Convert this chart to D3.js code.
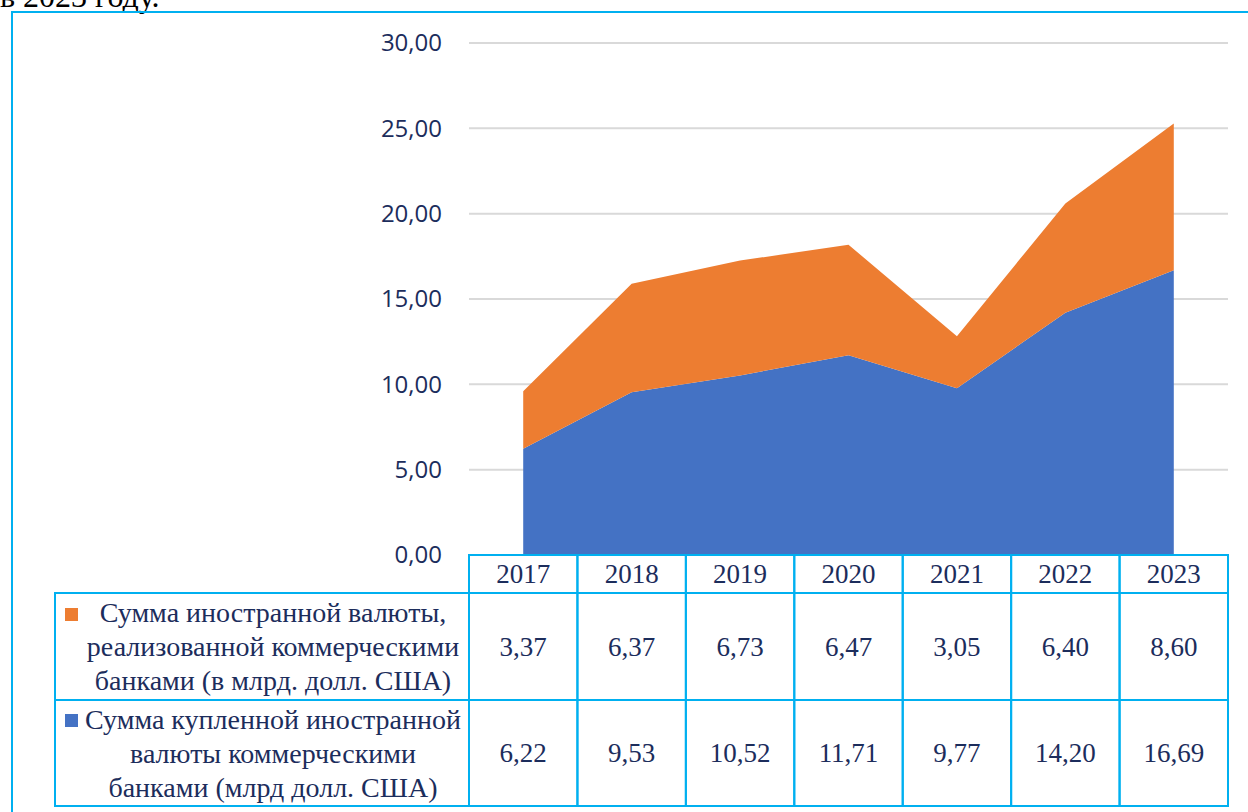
<!DOCTYPE html>
<html>
<head>
<meta charset="utf-8">
<script src="https://cdn.jsdelivr.net/npm/d3@7"></script>
<style>
  html, body { margin: 0; padding: 0; background: #fff; overflow: hidden; }
  svg { display: block; }
</style>
</head>
<body>
<div id="chart"></div>
<script>
// Data
const years = ['2017', '2018', '2019', '2020', '2021', '2022', '2023'];
const bought = [6.22, 9.53, 10.52, 11.71, 9.77, 14.20, 16.69];
const sold = [3.37, 6.37, 6.73, 6.47, 3.05, 6.40, 8.60];
const yTicks = [0, 5, 10, 15, 20, 25, 30];
const seriesNames = {
    sold: ['Сумма иностранной валюты,', 'реализованной коммерческими', 'банками (в млрд. долл. США)'],
    bought: ['Сумма купленной иностранной', 'валюты коммерческими', 'банками (млрд долл. США)']
};

const W = 1248, H = 812;
const blue = '#4472c4', orange = '#ed7d31', border = '#00b0f0', navy = '#1c2d5c';

const svg = d3.select('#chart').append('svg')
    .attr('width', W)
    .attr('height', H);

// Cut-off line of text above the chart frame (partly off the page, as in the source)
svg.append('text')
    .attr('x', 0)
    .attr('y', 7)
    .style('font-family', '"Liberation Serif", serif')
    .style('font-size', '32px')
    .style('fill', '#000')
    .text('в 2023 году.');

// Frame
svg.append('rect')
    .attr('x', 12).attr('y', 12)
    .attr('width', W - 11).attr('height', H - 11)
    .attr('fill', 'none')
    .attr('stroke', border)
    .attr('stroke-width', 2);

// Plot geometry
const plotLeft = 469, plotRight = 1228, plotTop = 43, plotBottom = 555;
const x = d3.scaleBand().domain(years).range([plotLeft, plotRight]);
const y = d3.scaleLinear().domain([0, 30]).range([plotBottom, plotTop]);

// Gridlines
svg.append('g')
    .selectAll('line')
    .data(yTicks.filter(d => d > 0))
    .enter().append('line')
    .attr('x1', plotLeft).attr('x2', plotRight)
    .attr('y1', d => y(d)).attr('y2', d => y(d))
    .attr('stroke', '#d9d9d9')
    .attr('stroke-width', 2);

// Y axis labels
const fmt = v => v.toFixed(2).replace('.', ',');
svg.append('g')
    .selectAll('text')
    .data(yTicks)
    .enter().append('text')
    .attr('x', 442)
    .attr('y', d => y(d))
    .attr('dy', '0.35em')
    .attr('text-anchor', 'end')
    .style('font-family', '"Open Sans", "Liberation Sans", sans-serif')
    .style('font-size', '24px')
    .style('fill', navy)
    .text(fmt);

// Stacked areas
const rows = years.map((yr, i) => ({ year: yr, bought: bought[i], sold: sold[i] }));
const stack = d3.stack().keys(['bought', 'sold'])(rows);
const cx = d => x(d.data.year) + x.bandwidth() / 2;
const area = d3.area()
    .x(cx)
    .y0(d => y(d[0]))
    .y1(d => y(d[1]));

svg.append('g')
    .selectAll('path')
    .data(stack)
    .enter().append('path')
    .attr('d', area)
    .attr('fill', d => d.key === 'bought' ? blue : orange);

// Data table
const tableLeft = 55, hdrTop = plotBottom, hdrBottom = 593, row1Bottom = 700, row2Bottom = 806;
const tbl = svg.append('g');
const serif = '"Liberation Serif", "Times New Roman", serif';

// header cells
years.forEach(yr => {
    tbl.append('rect')
        .attr('x', x(yr)).attr('y', hdrTop)
        .attr('width', x.bandwidth()).attr('height', hdrBottom - hdrTop)
        .attr('fill', 'none').attr('stroke', border).attr('stroke-width', 2);
    tbl.append('text')
        .attr('x', x(yr) + x.bandwidth() / 2)
        .attr('y', (hdrTop + hdrBottom) / 2)
        .attr('dy', '0.35em')
        .attr('text-anchor', 'middle')
        .style('font-family', serif)
        .style('font-size', '27px')
        .style('fill', navy)
        .text(yr);
});

const tableRows = [
    { key: 'sold', color: orange, values: sold, y0: hdrBottom, y1: row1Bottom, lines: seriesNames.sold },
    { key: 'bought', color: blue, values: bought, y0: row1Bottom, y1: row2Bottom, lines: seriesNames.bought }
];

tableRows.forEach(r => {
    const mid = (r.y0 + r.y1) / 2;
    tbl.append('rect')
        .attr('x', tableLeft).attr('y', r.y0)
        .attr('width', plotLeft - tableLeft).attr('height', r.y1 - r.y0)
        .attr('fill', 'none').attr('stroke', border).attr('stroke-width', 2);
    years.forEach((yr, i) => {
        tbl.append('rect')
            .attr('x', x(yr)).attr('y', r.y0)
            .attr('width', x.bandwidth()).attr('height', r.y1 - r.y0)
            .attr('fill', 'none').attr('stroke', border).attr('stroke-width', 2);
        tbl.append('text')
            .attr('x', x(yr) + x.bandwidth() / 2)
            .attr('y', mid)
            .attr('dy', '0.35em')
            .attr('text-anchor', 'middle')
            .style('font-family', serif)
            .style('font-size', '27px')
            .style('fill', navy)
            .text(fmt(r.values[i]));
    });
    // legend marker
    tbl.append('rect')
        .attr('x', 65).attr('y', r.key === 'sold' ? 608 : 714)
        .attr('width', 13).attr('height', 13)
        .attr('fill', r.color);
    // legend text
    const lh = 34;
    r.lines.forEach((t, j) => {
        tbl.append('text')
            .attr('x', 273)
            .attr('y', mid + (j - 1) * lh)
            .attr('dy', '0.35em')
            .attr('text-anchor', 'middle')
            .style('font-family', serif)
            .style('font-size', '28px')
            .style('fill', navy)
            .text(t);
    });
});
</script>
</body>
</html>
